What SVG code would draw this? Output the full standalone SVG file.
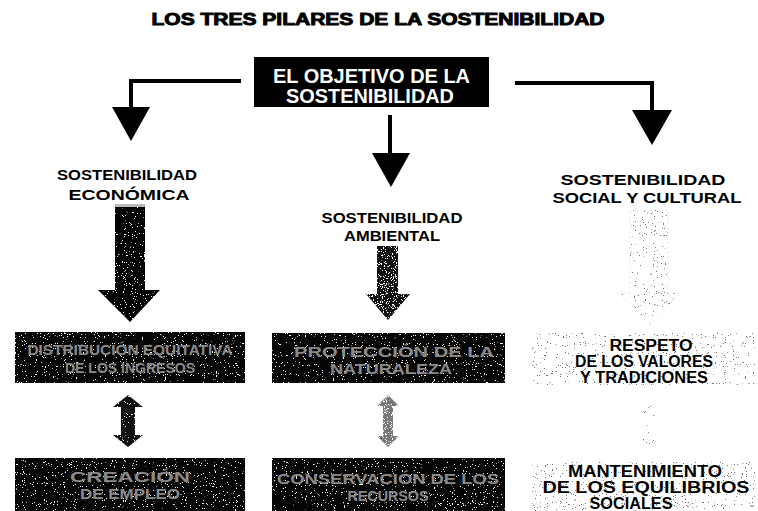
<svg xmlns="http://www.w3.org/2000/svg" width="758" height="511" viewBox="0 0 758 511">
<style>
.title{font-family:"Liberation Sans",Arial,sans-serif;font-weight:bold;font-size:16px;fill:#000;stroke:#000;stroke-width:0.9}
.head{font-family:"Liberation Sans",Arial,sans-serif;font-weight:bold;font-size:20px;fill:#fff}
.lbl{font-family:"Liberation Sans",Arial,sans-serif;font-weight:bold;font-size:15px;fill:#000}
.dk{font-family:"Liberation Sans",Arial,sans-serif;font-weight:bold;font-size:14px;fill:#8a8a8a}
.lt{font-family:"Liberation Sans",Arial,sans-serif;font-weight:bold;font-size:16px;fill:#000}
.conn{fill:none;stroke:#000;stroke-width:4}
</style>
<defs>
<filter id="specW" x="0" y="0" width="1" height="1" color-interpolation-filters="sRGB">
<feTurbulence type="fractalNoise" baseFrequency="0.9" numOctaves="2" seed="3" result="n"/>
<feColorMatrix in="n" type="matrix" values="0 0 0 0 1 0 0 0 0 1 0 0 0 0 1 30 0 0 0 -20.5" result="s"/>
<feComposite in="s" in2="SourceGraphic" operator="in" result="sp"/>
<feMerge><feMergeNode in="SourceGraphic"/><feMergeNode in="sp"/></feMerge>
</filter>
<filter id="specM" x="0" y="0" width="1" height="1" color-interpolation-filters="sRGB">
<feTurbulence type="fractalNoise" baseFrequency="0.9" numOctaves="2" seed="7" result="n"/>
<feColorMatrix in="n" type="matrix" values="0 0 0 0 1 0 0 0 0 1 0 0 0 0 1 30 0 0 0 -18" result="s"/>
<feComposite in="s" in2="SourceGraphic" operator="in" result="sp"/>
<feMerge><feMergeNode in="SourceGraphic"/><feMergeNode in="sp"/></feMerge>
</filter>
<filter id="specL" x="0" y="0" width="1" height="1" color-interpolation-filters="sRGB">
<feTurbulence type="fractalNoise" baseFrequency="0.9" numOctaves="2" seed="11" result="n"/>
<feColorMatrix in="n" type="matrix" values="0 0 0 0 0.45 0 0 0 0 0.45 0 0 0 0 0.45 30 0 0 0 -21" result="s"/>
<feComposite in="s" in2="SourceGraphic" operator="in" result="sp"/>
<feMerge><feMergeNode in="SourceGraphic"/><feMergeNode in="sp"/></feMerge>
</filter>
</defs>

<text class="title" x="378" y="25" text-anchor="middle" textLength="453" lengthAdjust="spacingAndGlyphs">LOS TRES PILARES DE LA SOSTENIBILIDAD</text>

<g id="objetivo">
<rect x="254" y="57" width="235" height="50" fill="#000"/>
<text class="head" x="371.5" y="83" text-anchor="middle" textLength="197" lengthAdjust="spacingAndGlyphs">EL OBJETIVO DE LA</text>
<text class="head" x="370" y="103" text-anchor="middle" textLength="168" lengthAdjust="spacingAndGlyphs">SOSTENIBILIDAD</text>
</g>

<g id="connectors">
<polyline class="conn" points="241,81 131,81 131,108"/>
<polygon points="112,107 150,107 131,141" fill="#000"/>
<line class="conn" x1="390" y1="115" x2="390" y2="154" stroke-width="6"/>
<polygon points="372,153 410,153 391,187" fill="#000"/>
<polyline class="conn" points="515,83 652,83 652,111"/>
<polygon points="632,110 672,110 652,145" fill="#000"/>
</g>

<g id="economica">
<text class="lbl" x="127" y="180" text-anchor="middle" textLength="140" lengthAdjust="spacingAndGlyphs">SOSTENIBILIDAD</text>
<text class="lbl" x="129" y="200" text-anchor="middle" textLength="121" lengthAdjust="spacingAndGlyphs">ECONÓMICA</text>
<polygon points="115,206 145,206 145,290 160,290 130,322 98,290 115,290" fill="#000" filter="url(#specW)"/>
<rect x="115" y="204" width="30" height="3" fill="#bbb"/>
</g>

<g id="ambiental">
<text class="lbl" x="392" y="223" text-anchor="middle" textLength="141" lengthAdjust="spacingAndGlyphs">SOSTENIBILIDAD</text>
<text class="lbl" x="392" y="241" text-anchor="middle" textLength="96" lengthAdjust="spacingAndGlyphs">AMBIENTAL</text>
<polygon points="377,246 398,246 398,294 410,294 388,320 366,294 377,294" fill="#111" filter="url(#specM)"/>
</g>

<g id="social">
<text class="lbl" x="643" y="185" text-anchor="middle" textLength="165" lengthAdjust="spacingAndGlyphs">SOSTENIBILIDAD</text>
<text class="lbl" x="647" y="203" text-anchor="middle" textLength="189" lengthAdjust="spacingAndGlyphs">SOCIAL Y CULTURAL</text>
<polygon points="630,210 668,210 668,293 680,293 650,325 620,293 630,293" fill="#fff" stroke="#ddd" stroke-width="0.8" stroke-dasharray="2 3" filter="url(#specL)"/>
</g>

<g id="ingresos">
<rect x="15" y="332" width="230" height="51" fill="#050505" filter="url(#specW)"/>
<text class="dk" x="130" y="355" text-anchor="middle" textLength="205" lengthAdjust="spacingAndGlyphs">DISTRIBUCIÓN EQUITATIVA</text>
<text class="dk" x="130" y="373" text-anchor="middle" textLength="130" lengthAdjust="spacingAndGlyphs">DE LOS INGRESOS</text>
</g>

<g id="empleo">
<rect x="15" y="458" width="230" height="53" fill="#050505" filter="url(#specW)"/>
<text class="dk" x="130" y="482" text-anchor="middle" textLength="120" lengthAdjust="spacingAndGlyphs">CREACIÓN</text>
<text class="dk" x="130" y="499" text-anchor="middle" textLength="100" lengthAdjust="spacingAndGlyphs">DE EMPLEO</text>
</g>

<g id="naturaleza">
<rect x="272" y="333" width="233" height="50" fill="#050505" filter="url(#specW)"/>
<text class="dk" x="394" y="357" text-anchor="middle" textLength="200" lengthAdjust="spacingAndGlyphs">PROTECCIÓN DE LA</text>
<text class="dk" x="391" y="374" text-anchor="middle" textLength="122" lengthAdjust="spacingAndGlyphs">NATURALEZA</text>
</g>

<g id="recursos">
<rect x="272" y="458" width="233" height="53" fill="#050505" filter="url(#specW)"/>
<text class="dk" x="388" y="484" text-anchor="middle" textLength="222" lengthAdjust="spacingAndGlyphs">CONSERVACIÓN DE LOS</text>
<text class="dk" x="388" y="501" text-anchor="middle" textLength="81" lengthAdjust="spacingAndGlyphs">RECURSOS</text>
</g>

<g id="valores">
<rect x="532" y="333" width="223" height="52" fill="#fff" filter="url(#specL)"/>
<text class="lt" x="651" y="351" text-anchor="middle" textLength="83" lengthAdjust="spacingAndGlyphs">RESPETO</text>
<text class="lt" x="644" y="367" text-anchor="middle" textLength="138" lengthAdjust="spacingAndGlyphs">DE LOS VALORES</text>
<text class="lt" x="644" y="383" text-anchor="middle" textLength="128" lengthAdjust="spacingAndGlyphs">Y TRADICIONES</text>
</g>

<g id="equilibrios">
<rect x="532" y="462" width="223" height="49" fill="#fff" filter="url(#specL)"/>
<text class="lt" x="645" y="477" text-anchor="middle" textLength="154" lengthAdjust="spacingAndGlyphs">MANTENIMIENTO</text>
<text class="lt" x="646" y="493" text-anchor="middle" textLength="207" lengthAdjust="spacingAndGlyphs">DE LOS EQUILIBRIOS</text>
<text class="lt" x="631" y="509" text-anchor="middle" textLength="83" lengthAdjust="spacingAndGlyphs">SOCIALES</text>
</g>

<g id="links">
<polygon points="128,395 143,407 135,407 135,435 143,435 128,447 113,435 121,435 121,407 113,407" fill="#111" filter="url(#specW)"/>
<polygon points="388,395 399,406 393,406 393,436 399,436 388,447 377,436 383,436 383,406 377,406" fill="#777" filter="url(#specM)"/>
<polygon points="650,405 658,413 654,413 654,439 658,439 650,447 642,439 646,439 646,413 642,413" fill="#fff" filter="url(#specL)"/>
</g>
</svg>
